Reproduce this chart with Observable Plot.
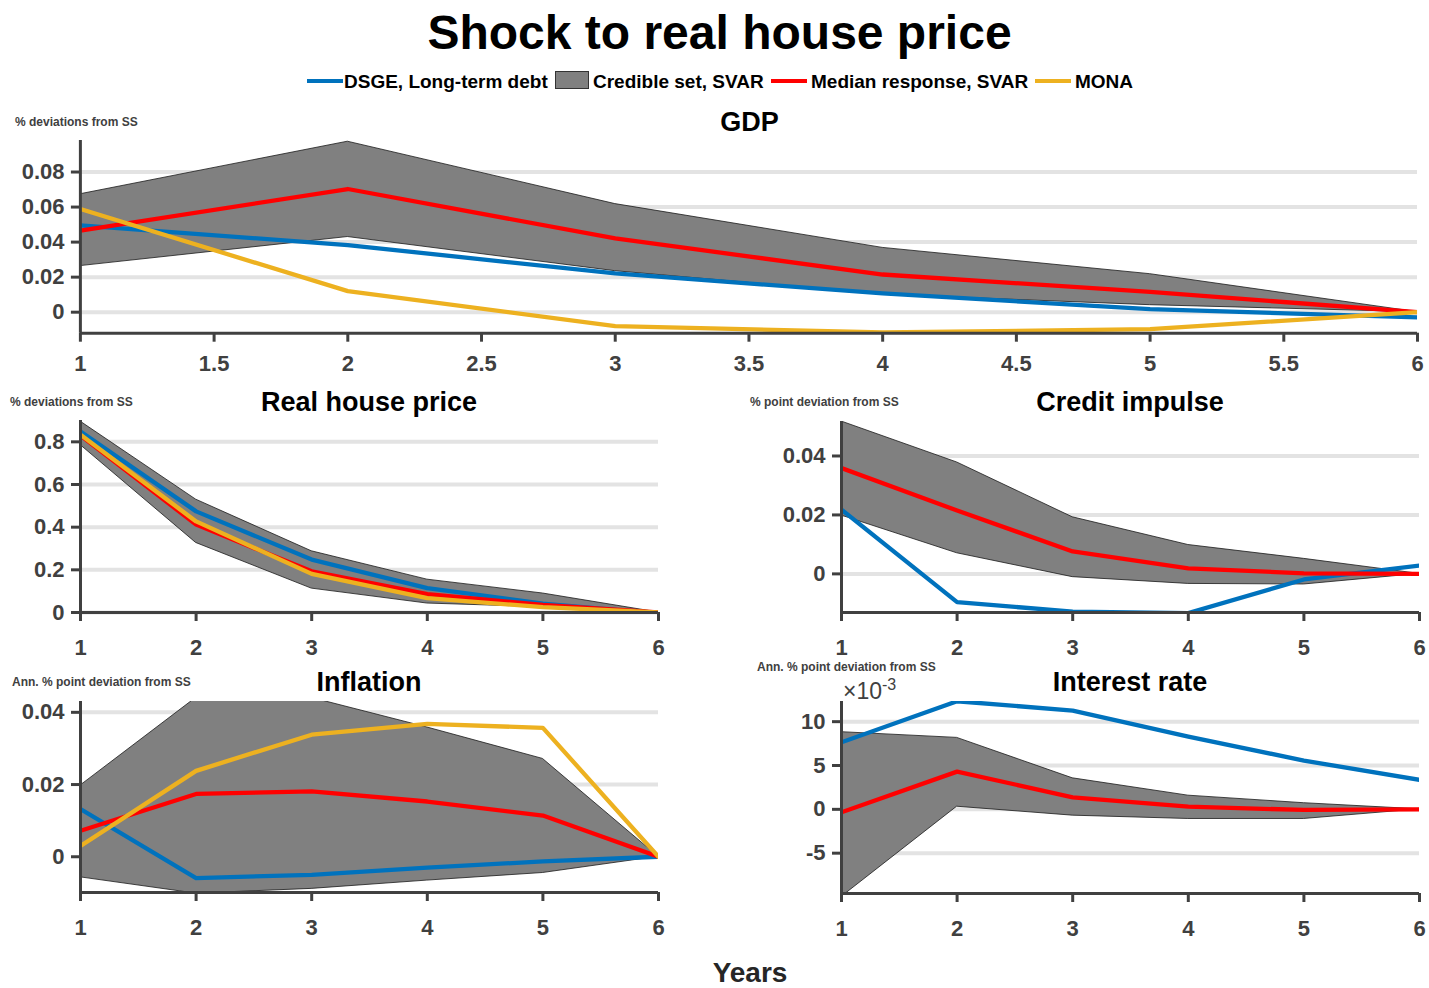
<!DOCTYPE html>
<html><head><meta charset="utf-8">
<script src="https://cdn.jsdelivr.net/npm/d3@7"></script>
<script src="https://cdn.jsdelivr.net/npm/@observablehq/plot@0.6"></script>
<style>
body{margin:0;background:#fff;}
#fig{position:relative;width:1429px;height:988px;overflow:hidden;font-family:"Liberation Sans",Arial,Helvetica,sans-serif;}
.abs{position:absolute;white-space:nowrap;line-height:1;}
.ctr{transform:translate(-50%,-50%);}
.vmid{transform:translateY(-50%);}
.ptitle{font-size:27px;font-weight:bold;color:#000;}
.ylab{font-size:12px;font-weight:bold;color:#404040;}
.leg{font-size:19px;font-weight:bold;color:#000;}
.legline{position:absolute;height:4px;}
svg{position:absolute;overflow:visible;}
</style></head><body><div id="fig"></div>
<script>
// ---------- data ----------
const horizons = [1, 2, 3, 4, 5, 6];

// GDP
const gdpUpper  = [0.0673, 0.0973, 0.0617, 0.0367, 0.0217, 0.0];
const gdpLower  = [0.0263, 0.0429, 0.0234, 0.0100, 0.0040, 0.0];
const gdpMedian = [0.0465, 0.0703, 0.0421, 0.0215, 0.0116, 0.0];
const gdpDsge   = [0.0495, 0.0383, 0.0221, 0.0107, 0.0017, -0.0030];
const gdpMona   = [0.0589, 0.0120, -0.0080, -0.0116, -0.0097, 0.0];

// Real house price
const rhpUpper  = [0.895, 0.529, 0.287, 0.154, 0.089, 0.0];
const rhpLower  = [0.785, 0.326, 0.112, 0.042, 0.025, 0.0];
const rhpMedian = [0.830, 0.412, 0.193, 0.086, 0.036, 0.0];
const rhpDsge   = [0.848, 0.474, 0.248, 0.114, 0.042, -0.006];
const rhpMona   = [0.833, 0.427, 0.181, 0.067, 0.025, 0.0];

// Credit impulse
const crUpper  = [0.0517, 0.0378, 0.0192, 0.0098, 0.0051, 0.0];
const crLower  = [0.0198, 0.0070, -0.0011, -0.0034, -0.0036, 0.0];
const crMedian = [0.0359, 0.0215, 0.0076, 0.0019, 0.0002, 0.0];
const crDsge   = [0.0218, -0.0096, -0.0128, -0.0133, -0.0019, 0.0028];

// Inflation
const infUpper  = [0.0197, 0.0440, 0.0440, 0.0358, 0.0271, 0.0];
const infLower  = [-0.0057, -0.0102, -0.0089, -0.0066, -0.0045, 0.0];
const infMedian = [0.0072, 0.0174, 0.0181, 0.0153, 0.0114, 0.0];
const infDsge   = [0.0132, -0.0059, -0.0050, -0.0030, -0.0013, 0.0];
const infMona   = [0.0030, 0.0238, 0.0338, 0.0368, 0.0357, 0.0];

// Interest rate
const irUpper  = [0.0088, 0.00815, 0.00354, 0.00156, 0.0007, 0.0];
const irLower  = [-0.0100, 0.0003, -0.00072, -0.0011, -0.0011, 0.0];
const irMedian = [-0.00034, 0.0043, 0.00137, 0.0003, -0.00007, 0.0];
const irDsge   = [0.00765, 0.01233, 0.01127, 0.0083, 0.00556, 0.00336];

// tick labels
const xTicksHalf = [1, 1.5, 2, 2.5, 3, 3.5, 4, 4.5, 5, 5.5, 6];
const xTicksInt = [1, 2, 3, 4, 5, 6];
const gdpTicks = [0, 0.02, 0.04, 0.06, 0.08];
const rhpTicks = [0, 0.2, 0.4, 0.6, 0.8];
const crTicks = [0, 0.02, 0.04];
const infTicks = [0, 0.02, 0.04];
const irTicks = [-0.005, 0, 0.005, 0.01];

// series styling
const cBlue = "#0072BD", cRed = "#FF0000", cYellow = "#EDB120", cBand = "#808080";

const fig = document.getElementById("fig");

function addText(txt, cls, x, y, extra) {
  const d = document.createElement("div");
  d.className = "abs " + cls;
  d.textContent = txt;
  d.style.left = x + "px";
  d.style.top = y + "px";
  if (extra) Object.assign(d.style, extra);
  fig.appendChild(d);
  return d;
}

function panel(o) {
  const svgLeft = o.left - 80;
  const svgTop = o.top - 14;
  const W = o.right + 12 - svgLeft;
  const H = o.bottom + 50 - svgTop;
  const rows = horizons.map((h, i) => ({
    h, upper: o.upper[i], lower: o.lower[i], median: o.median[i], dsge: o.dsge[i],
    mona: o.mona ? o.mona[i] : null
  }));
  const marks = [
    Plot.ruleY(o.yTicks, {stroke: "#e3e3e3", strokeWidth: 4}),
    Plot.areaY(rows, {x: "h", y1: "lower", y2: "upper", fill: cBand, stroke: "#1a1a1a", strokeWidth: 0.8, clip: true}),
    Plot.lineY(rows, {x: "h", y: "dsge", stroke: cBlue, strokeWidth: 4.3, clip: true}),
    Plot.lineY(rows, {x: "h", y: "median", stroke: cRed, strokeWidth: 4.3, clip: true})
  ];
  if (o.mona) marks.push(Plot.lineY(rows, {x: "h", y: "mona", stroke: cYellow, strokeWidth: 4.3, clip: true}));
  marks.push(
    Plot.axisY(o.yTicks, {label: null, tickSize: 9, tickPadding: 7, tickFormat: o.yFormat, fontSize: 22, strokeWidth: 3}),
    Plot.axisX(o.xTicks, {label: null, tickSize: 9, tickPadding: o.xPad, tickFormat: d => String(d), fontSize: 22, strokeWidth: 3}),
    Plot.ruleX([1], {stroke: "#404040", strokeWidth: 3}),
    Plot.ruleY([o.yDomain[0]], {stroke: "#404040", strokeWidth: 3})
  );
  const svg = Plot.plot({
    width: W, height: H,
    marginLeft: o.left - svgLeft, marginRight: W - (o.right - svgLeft),
    marginTop: o.top - svgTop, marginBottom: svgTop + H - o.bottom,
    x: {domain: [1, 6], label: null},
    y: {domain: o.yDomain, label: null},
    style: {color: "#404040", fontWeight: "bold", fontFamily: "'Liberation Sans', Arial, sans-serif", background: "transparent", overflow: "visible"},
    marks
  });
  svg.style.left = svgLeft + "px";
  svg.style.top = svgTop + "px";
  fig.appendChild(svg);
  addText(o.title, "ptitle ctr", (o.left + o.right) / 2, o.titleY);
}

// ---------- title & legend ----------
addText("Shock to real house price", "ctr", 719.5, 33, {fontSize: "48px", fontWeight: "bold", color: "#000"});

function legLine(x, color) {
  const d = document.createElement("div");
  d.className = "legline";
  Object.assign(d.style, {left: x + "px", top: "79px", width: "36px", background: color});
  fig.appendChild(d);
}
legLine(307, cBlue);
addText("DSGE, Long-term debt", "leg vmid", 344, 81);
const box = document.createElement("div");
Object.assign(box.style, {position: "absolute", left: "555px", top: "71px", width: "34px", height: "18px", background: cBand, border: "1px solid #333", boxSizing: "border-box"});
fig.appendChild(box);
addText("Credible set, SVAR", "leg vmid", 593, 81);
legLine(771, cRed);
addText("Median response, SVAR", "leg vmid", 811, 81);
legLine(1035, cYellow);
addText("MONA", "leg vmid", 1075, 81);

// ---------- panels ----------
const f2 = d => d === 0 ? "0" : d.toFixed(2);
const f1 = d => d === 0 ? "0" : d.toFixed(1);

panel({title: "GDP", titleY: 122, left: 80, right: 1419, top: 140, bottom: 333,
  yDomain: [-0.012, 0.098], yTicks: gdpTicks, yFormat: f2, xTicks: xTicksHalf, xPad: 13,
  upper: gdpUpper, lower: gdpLower, median: gdpMedian, dsge: gdpDsge, mona: gdpMona});
addText("% deviations from SS", "ylab vmid", 15, 122);

panel({title: "Real house price", titleY: 402, left: 80, right: 658, top: 420, bottom: 612,
  yDomain: [0, 0.9], yTicks: rhpTicks, yFormat: f1, xTicks: xTicksInt, xPad: 18,
  upper: rhpUpper, lower: rhpLower, median: rhpMedian, dsge: rhpDsge, mona: rhpMona});
addText("% deviations from SS", "ylab vmid", 10, 402);

panel({title: "Credit impulse", titleY: 402, left: 841, right: 1419, top: 421, bottom: 612,
  yDomain: [-0.0131, 0.0517], yTicks: crTicks, yFormat: f2, xTicks: xTicksInt, xPad: 18,
  upper: crUpper, lower: crLower, median: crMedian, dsge: crDsge, mona: null});
addText("% point deviation from SS", "ylab vmid", 750, 402);

panel({title: "Inflation", titleY: 682, left: 80, right: 658, top: 701, bottom: 892,
  yDomain: [-0.0099, 0.043], yTicks: infTicks, yFormat: f2, xTicks: xTicksInt, xPad: 18,
  upper: infUpper, lower: infLower, median: infMedian, dsge: infDsge, mona: infMona});
addText("Ann. % point deviation from SS", "ylab vmid", 12, 682);

panel({title: "Interest rate", titleY: 682, left: 841, right: 1419, top: 701, bottom: 893,
  yDomain: [-0.0096, 0.0123], yTicks: irTicks, yFormat: d => String(Math.round(d * 1000)), xTicks: xTicksInt, xPad: 18,
  upper: irUpper, lower: irLower, median: irMedian, dsge: irDsge, mona: null});
addText("Ann. % point deviation from SS", "ylab vmid", 757, 667);
const exp = addText("", "", 843, 677, {fontSize: "23px", color: "#404040"});
exp.innerHTML = "×10<sup style='font-size:16px;vertical-align:9px'>-3</sup>";

addText("Years", "ctr", 750, 973, {fontSize: "28px", fontWeight: "bold", color: "#262626"});
</script></body></html>
